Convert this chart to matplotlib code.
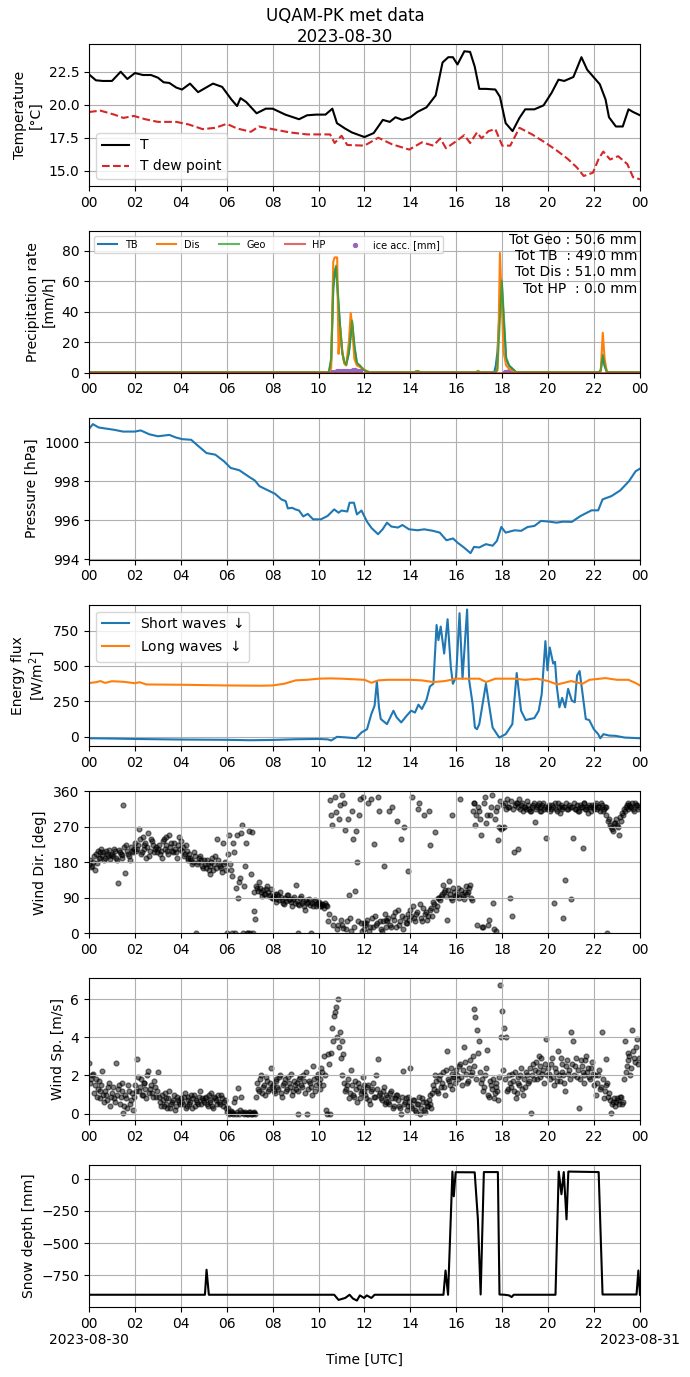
import numpy as np
import matplotlib
matplotlib.use('Agg')
import matplotlib.pyplot as plt
import matplotlib.dates as mdates
from matplotlib.ticker import FuncFormatter

# ---- temperature [degC], time in hours UTC
t_temp = [0, 0.3, 0.6, 1.0, 1.38, 1.67, 2.0, 2.35, 2.7, 3.0, 3.25, 3.5, 3.8, 4.05, 4.4, 4.75, 5.0, 5.4, 5.8, 6.2,
          6.45, 6.6, 6.85, 7.3, 7.7, 8.0, 8.55, 9.15, 9.5, 9.9, 10.3, 10.6, 10.8, 11.15, 11.45, 12.0, 12.4, 12.8,
          13.1, 13.35, 13.65, 14.0, 14.3, 14.7, 15.1, 15.4, 15.65, 15.85, 16.05, 16.35, 16.6, 16.8, 17.0, 17.3,
          17.7, 17.9, 18.15, 18.45, 18.75, 19.0, 19.4, 19.8, 20.15, 20.45, 20.7, 21.1, 21.45, 21.7, 22.0, 22.25,
          22.5, 22.65, 22.95, 23.25, 23.5, 23.7, 24.0]
temp = [22.3, 21.85, 21.8, 21.8, 22.5, 21.95, 22.4, 22.25, 22.25, 22.05, 21.7, 21.65, 21.3, 21.15, 21.6, 20.95,
        21.2, 21.6, 21.35, 20.4, 19.9, 20.5, 20.2, 19.35, 19.7, 19.7, 19.25, 18.9, 19.2, 19.25, 19.25, 19.7, 18.6,
        18.2, 17.9, 17.55, 17.85, 18.85, 18.7, 19.05, 18.85, 19.05, 19.45, 19.8, 20.7, 23.2, 23.6, 23.6, 23.05,
        24.05, 24.0, 22.9, 21.2, 21.2, 21.15, 20.6, 18.6, 18.0, 19.0, 19.65, 19.65, 19.95, 20.9, 21.9, 21.8, 22.1,
        23.6, 22.65, 22.05, 21.55, 20.4, 19.05, 18.35, 18.35, 19.65, 19.45, 19.2]
t_dew = [0, 0.5, 1.1, 1.5, 1.95, 2.45, 3.0, 3.8, 4.35, 4.95, 5.5, 6.0, 6.45, 7.05, 7.4, 8.0, 8.75, 9.5, 10.5,
         10.7, 11.0, 11.25, 12.0, 12.6, 13.2, 13.95, 14.5, 15.0, 15.3, 15.55, 16.05, 16.35, 16.6, 16.9, 17.1,
         17.4, 17.7, 18.0, 18.35, 18.75, 19.3, 19.9, 20.4, 20.85, 21.25, 21.55, 21.95, 22.2, 22.4, 22.7, 23.05,
         23.45, 23.7, 24.0]
dew = [19.45, 19.55, 19.25, 19.0, 19.15, 18.9, 18.7, 18.7, 18.5, 18.15, 18.25, 18.55, 18.2, 17.95, 18.35, 18.15,
       17.9, 17.75, 17.75, 17.1, 17.65, 16.95, 16.9, 17.5, 17.0, 16.6, 17.15, 16.9, 17.45, 16.7, 17.3, 17.7, 17.1,
       17.9, 17.45, 18.0, 18.15, 16.9, 16.9, 18.25, 17.75, 17.1, 16.5, 15.9, 15.25, 14.6, 14.85, 15.9, 16.45,
       15.85, 16.1, 15.5, 14.5, 14.35]

# ---- precipitation rate [mm/h]
t_pr = [0, 10.45, 10.55, 10.64, 10.7, 10.76, 10.81, 10.87, 10.94, 11.03, 11.12, 11.2, 11.32, 11.4, 11.46, 11.56,
        11.67, 11.8, 11.95, 12.1, 12.25, 14.15, 14.3, 14.45, 16.85, 16.95, 17.05, 17.65, 17.72, 17.79, 17.85,
        17.9, 17.98, 18.06, 18.17, 18.3, 18.45, 18.6, 22.2, 22.29, 22.38, 22.46, 22.56, 24]
pr_tb = [0.3, 0.3, 8, 55, 65, 69, 58, 44, 29, 13, 7, 5, 13, 24, 33, 17, 6, 4.5, 2, 0.8, 0.3, 0.3, 1.0, 0.3, 0.3,
         0.8, 0.3, 0.3, 4.8, 13.5, 30, 44, 59, 35, 9, 4.5, 2.5, 0.4, 0.3, 1.5, 11, 4.5, 0.4, 0.3]
pr_dis = [0.3, 0.3, 3, 72.8, 75.6, 75.6, 75.6, 12.4, 30, 14.6, 6, 4.8, 20, 39.2, 31, 9, 4.8, 3.8, 2.5, 0.9, 0.3,
          0.3, 1.2, 0.3, 0.3, 1.2, 0.3, 0.3, 0.5, 1.5, 35, 78.5, 46, 13.5, 4.8, 2.5, 1.5, 0.4, 0.3, 0.9, 26.2, 9,
          0.4, 0.3]
pr_geo = [0.3, 0.3, 10, 57, 66, 70.2, 60, 46, 30, 13.5, 7, 5.2, 13.5, 25, 34.2, 17.9, 6.5, 4.8, 2.2, 0.8, 0.3,
          0.3, 1.0, 0.3, 0.3, 0.8, 0.3, 0.3, 0.5, 3, 20, 35, 60.4, 40, 10, 4.8, 2.6, 0.4, 0.3, 1.5, 11.8, 4.8,
          0.4, 0.3]
t_hp = [0, 24]
pr_hp = [0.0, 0.0]
t_ice = [10.6, 10.7, 10.8, 10.9, 11.0, 11.1, 11.2, 11.3, 11.4, 11.5, 11.6, 11.7, 11.8, 18.1, 18.2, 18.3, 18.4]
ice = [0.4, 0.8, 1.0, 1.1, 1.2, 1.2, 1.3, 1.3, 1.4, 1.5, 1.5, 1.4, 1.2, 0.5, 0.8, 1.0, 1.0]
totals = {'Geo': 50.6, 'TB ': 49.0, 'Dis': 51.0, 'HP ': 0.0}

# ---- pressure [hPa]
t_p = [0, 0.17, 0.42, 0.7, 1.1, 1.48, 2.0, 2.25, 2.63, 3.0, 3.5, 3.78, 4.07, 4.45, 4.73, 5.12, 5.5, 5.88, 6.17,
       6.55, 6.94, 7.23, 7.42, 7.8, 8.1, 8.38, 8.57, 8.66, 8.85, 8.99, 9.15, 9.33, 9.53, 9.76, 10.1, 10.39,
       10.68, 10.87, 11.0, 11.25, 11.35, 11.54, 11.67, 11.87, 12.11, 12.31, 12.59, 12.79, 12.98, 13.17, 13.46,
       13.65, 13.94, 14.32, 14.6, 14.99, 15.28, 15.57, 15.86, 16.05, 16.33, 16.62, 16.77, 17.0, 17.29, 17.58,
       17.77, 17.96, 18.15, 18.54, 18.82, 19.11, 19.4, 19.69, 20.07, 20.36, 20.65, 21.03, 21.41, 21.89, 22.18,
       22.37, 22.76, 23.14, 23.52, 23.81, 24.0]
pres = [1000.68, 1000.92, 1000.75, 1000.7, 1000.63, 1000.54, 1000.54, 1000.6, 1000.4, 1000.3, 1000.37, 1000.24,
        1000.15, 1000.12, 999.83, 999.44, 999.36, 999.02, 998.68, 998.56, 998.25, 998.03, 997.75, 997.53, 997.36,
        997.07, 996.98, 996.61, 996.64, 996.56, 996.5, 996.2, 996.33, 996.05, 996.05, 996.22, 996.56, 996.39,
        996.5, 996.45, 996.9, 996.9, 996.3, 996.5, 995.93, 995.6, 995.29, 995.54, 995.88, 995.68, 995.63, 995.76,
        995.54, 995.49, 995.54, 995.46, 995.37, 994.98, 995.07, 994.86, 994.61, 994.32, 994.64, 994.61, 994.78,
        994.7, 994.95, 995.66, 995.37, 995.49, 995.46, 995.66, 995.71, 995.97, 995.93, 995.88, 995.93, 995.92,
        996.22, 996.51, 996.51, 997.07, 997.24, 997.53, 998.0, 998.51, 998.64]

# ---- radiation [W/m2]
t_sw = [0, 1, 2, 3, 4, 5, 6, 7, 8, 9, 10, 10.4, 10.55, 10.8, 11.2, 11.63, 11.87, 12.11, 12.3, 12.44, 12.54,
        12.63, 12.71, 12.98, 13.26, 13.4, 13.6, 13.84, 14.03, 14.2, 14.35, 14.5, 14.7, 14.85, 15.0, 15.14, 15.22,
        15.32, 15.47, 15.62, 15.76, 15.85, 15.99, 16.14, 16.27, 16.47, 16.56, 16.71, 16.81, 16.9, 17.0, 17.29,
        17.42, 17.58, 17.87, 18.15, 18.44, 18.63, 18.82, 19.02, 19.4, 19.59, 19.72, 19.88, 19.97, 20.07, 20.22,
        20.3, 20.38, 20.49, 20.61, 20.74, 20.87, 21.03, 21.16, 21.26, 21.37, 21.5, 21.64, 21.79, 21.99, 22.18,
        22.27, 22.41, 22.66, 22.94, 23.33, 24]
sw = [-12, -14, -17, -19, -21, -22, -23, -26, -24, -19, -17, -20, -28, -2, -6, -12, 29, 52, 160, 219, 390, 207,
      124, 88, 183, 136, 100, 148, 183, 170, 226, 195, 260, 355, 374, 790, 683, 779, 588, 831, 493, 374, 421, 874,
      410, 900, 398, 231, 64, 52, 88, 374, 231, 64, -7, 17, 88, 450, 183, 117, 131, 183, 302, 676, 469, 631, 517,
      529, 350, 207, 274, 207, 338, 255, 243, 433, 464, 302, 124, 117, 52, 17, -12, 17, 7, 5, -7, -12]
t_lw = [0, 0.3, 0.5, 0.7, 1.0, 1.5, 2.0, 2.2, 2.5, 4, 6, 7.5, 8, 8.5, 9, 9.5, 10, 10.5, 11, 12, 12.3, 12.6, 13,
        14, 14.5, 15, 15.5, 16, 17, 17.3, 17.7, 18.5, 19, 19.5, 20, 20.4, 21, 21.5, 21.8, 22.5, 23, 23.5, 23.8, 24]
lw = [379, 385, 393, 380, 392, 388, 378, 385, 369, 367, 362, 360, 362, 374, 398, 402, 410, 412, 410, 402, 381,
      398, 402, 402, 398, 386, 393, 410, 410, 386, 410, 410, 402, 410, 393, 369, 393, 374, 402, 414, 402, 402,
      380, 362]

# ---- wind, one value every 5 minutes (one row per hour), two interleaved sets
wind_dir = [
    175, 168, 182, 160, 178, 190, 205, 198, 185, 210, 195, 188,
    200, 215, 192, 128, 205, 198, 325, 153, 210, 195, 220, 205,
    230, 215, 265, 200, 245, 225, 190, 255, 210, 235, 205, 220,
    215, 200, 190, 240, 225, 210, 250, 230, 205, 215, 190, 245,
    235, 220, 200, 210, 185, 190, 175, 205, 0, 180, 195, 170,
    185, 165, 175, 150, 180, 160, 195, 240, 175, 165, 230, 180,
    0, 250, 160, 0, 205, 115, 90, 140, 275, 120, 230, 0,
    0, 258, 57, 36, 115, 130, 105, 110, 100, 120, 95, 112,
    90, 100, 80, 95, 105, 85, 75, 82, 98, 88, 70, 92,
    123, 0, 72, 95, 82, 60, 78, 88, 0, 70, 85, 75,
    80, 70, 75, 65, 72, 31, 338, 275, 40, 308, 20, 325,
    350, 14, 262, 30, 98, 5, 240, 107, 182, 300, 25, 345,
    10, 25, 330, 15, 40, 226, 20, 345, 30, 5, 170, 35,
    30, 310, 15, 45, 55, 285, 20, 240, 10, 40, 25, 157,
    60, 345, 40, 50, 315, 75, 30, 300, 55, 45, 225, 65,
    80, 258, 70, 90, 95, 123, 110, 35, 132, 90, 300, 105,
    95, 115, 340, 100, 88, 120, 105, 123, 85, 330, 275, 20,
    310, 250, 15, 345, 300, 35, 320, 77, 290, 5, 237, 335,
    266, 270, 315, 320, 90, 43, 205, 330, 215, 340, 325, 310,
    320, 335, 315, 310, 325, 283, 320, 330, 310, 325, 315, 241,
    320, 310, 325, 77, 315, 330, 305, 320, 40, 136, 315, 325,
    88, 241, 315, 325, 310, 320, 216, 330, 315, 305, 320, 325,
    315, 330, 320, 310, 325, 315, 320, 2, 290, 270, 260, 280,
    275, 250, 285, 300, 310, 325, 315, 320, 330, 310, 325, 315,
]
wind_dir_b = [
    185, 172, 195, 200, 210, 192, 215, 205, 190, 200, 212, 198,
    195, 208, 185, 212, 200, 190, 218, 225, 200, 185, 210, 215,
    210, 225, 240, 205, 215, 230, 220, 195, 240, 225, 215, 205,
    225, 210, 235, 215, 245, 200, 220, 210, 230, 205, 225, 215,
    210, 195, 225, 190, 200, 185, 180, 195, 175, 190, 185, 165,
    175, 185, 160, 170, 190, 175, 165, 185, 170, 155, 175, 160,
    200, 175, 145, 230, 0, 250, 130, 255, 0, 170, 0, 260,
    150, 0, 105, 120, 108, 115, 95, 100, 112, 105, 98, 90,
    95, 88, 100, 85, 92, 78, 90, 96, 84, 80, 88, 76,
    82, 75, 90, 78, 68, 85, 80, 72, 76, 82, 70, 78,
    75, 68, 72, 78, 70, 50, 300, 20, 345, 10, 290, 35,
    20, 330, 10, 290, 40, 310, 15, 260, 30, 340, 5, 25,
    20, 35, 5, 340, 15, 45, 25, 310, 10, 30, 50, 15,
    40, 20, 320, 35, 15, 60, 30, 45, 270, 25, 50, 35,
    45, 70, 30, 55, 330, 40, 65, 50, 35, 310, 60, 45,
    75, 60, 90, 85, 100, 105, 95, 110, 100, 85, 115, 95,
    100, 90, 110, 95, 105, 100, 115, 90, 310, 330, 300, 320,
    290, 15, 330, 280, 20, 300, 350, 10, 310, 320, 270, 265,
    325, 330, 340, 320, 335, 315, 325, 330, 320, 315, 330, 320,
    315, 325, 310, 320, 330, 315, 325, 320, 310, 330, 320, 315,
    325, 315, 320, 330, 310, 320, 325, 315, 320, 330, 315, 320,
    320, 330, 315, 310, 325, 320, 330, 315, 320, 325, 310, 320,
    325, 315, 320, 330, 310, 320, 300, 285, 275, 265, 280, 290,
    270, 295, 305, 315, 320, 330, 325, 320, 315, 330, 325, 320,
]
wind_sp = [
    2.66, 1.8, 2.1, 1.5, 0.9, 1.7, 1.2, 2.26, 0.6, 1.0, 1.4, 0.4,
    1.1, 0.8, 2.66, 1.3, 0.5, 1.6, 0.05, 1.0, 0.3, 1.2, 0.7, 0.2,
    1.5, 2.87, 1.2, 1.8, 1.0, 1.6, 0.8, 2.26, 1.3, 1.1, 1.7, 0.9,
    2.2, 0.6, 1.0, 0.4, 0.8, 0.3, 1.2, 0.5, 0.7, 0.2, 0.9, 0.6,
    0.8, 0.5, 1.1, 0.4, 0.9, 0.6, 0.3, 1.0, 0.7, 0.5, 1.2, 0.8,
    0.6, 0.9, 0.4, 0.7, 1.1, 0.3, 0.8, 0.5, 0.6, 1.0, 0.4, 0.7,
    0.1, 0.0, 0.15, 0.05, 0.6, 0.0, 1.36, 0.2, 0.1, 0.0, 0.05, 0.0,
    0.1, 0.0, 0.05, 0.0, 1.6, 1.2, 2.0, 1.4, 1.0, 1.7, 1.3, 2.4,
    1.5, 1.1, 1.8, 1.3, 2.0, 0.9, 1.6, 1.2, 1.9, 1.4, 1.0, 1.7,
    1.3, 0.0, 1.8, 1.5, 2.0, 1.1, 0.0, 1.7, 1.4, 2.5, 1.2, 1.9,
    1.6, 1.3, 2.2, 3.0, 0.2, 3.1, 0.0, 4.5, 5.1, 5.6, 6.0, 4.3,
    3.8, 3.1, 1.2, 1.5, 0.8, 2.3, 1.0, 1.7, 0.6, 1.4, 1.1, 1.9,
    1.2, 0.8, 1.5, 0.5, 1.3, 0.9, 2.0, 2.84, 1.1, 0.7, 1.4, 0.6,
    0.9, 0.5, 1.2, 0.3, 0.8, 1.0, 0.4, 0.0, 2.23, 0.6, 0.2, 0.9,
    2.4, 0.3, 0.7, 0.1, 0.5, 0.0, 0.8, 0.2, 0.6, 0.4, 1.0, 0.3,
    1.5, 2.0, 1.2, 1.8, 1.4, 2.2, 1.0, 3.27, 1.7, 2.4, 1.3, 1.9,
    2.3, 1.8, 2.6, 1.5, 3.5, 2.1, 1.7, 2.8, 2.2, 5.5, 5.05, 4.4,
    3.8, 1.6, 1.2, 2.0, 3.35, 0.9, 1.5, 1.8, 1.1, 1.4, 0.7, 6.75,
    5.4, 4.5, 4.0, 1.3, 1.6, 2.1, 1.2, 0.8, 1.9, 1.5, 2.4, 1.0,
    1.4, 2.0, 1.7, 0.05, 2.6, 2.3, 1.8, 3.0, 2.5, 2.1, 1.6, 3.9,
    2.4, 1.8, 2.9, 1.5, 2.2, 3.3, 1.7, 2.6, 2.0, 1.2, 2.8, 2.3,
    4.3, 3.8, 2.5, 1.9, 0.3, 2.8, 2.2, 1.6, 3.0, 2.4, 1.8, 2.7,
    1.5, 1.0, 2.0, 1.3, 4.3, 0.8, 2.87, 1.6, 1.1, 0.05, 0.6, 0.4,
    0.8, 0.5, 0.9, 0.6, 3.8, 2.5, 3.2, 2.0, 4.4, 2.9, 3.5, 2.6,
]
wind_sp_b = [
    1.6, 2.0, 1.1, 1.8, 1.3, 0.8, 1.5, 1.0, 1.2, 0.7, 1.6, 0.9,
    1.4, 0.6, 1.0, 1.5, 0.9, 1.2, 0.4, 0.8, 1.5, 0.5, 1.1, 0.9,
    1.2, 1.9, 1.4, 1.0, 1.6, 1.3, 2.0, 1.1, 1.5, 0.9, 1.4, 1.2,
    0.9, 0.4, 0.7, 1.1, 0.5, 0.8, 0.3, 0.6, 1.0, 0.4, 0.7, 0.5,
    0.6, 0.9, 0.3, 0.7, 0.5, 1.0, 0.8, 0.4, 0.6, 0.9, 0.5, 0.7,
    0.8, 0.5, 1.0, 0.6, 0.4, 0.9, 0.7, 1.0, 0.5, 0.8, 0.6, 0.3,
    0.3, 0.05, 0.1, 0.0, 0.8, 0.1, 0.0, 0.9, 0.05, 0.1, 0.0, 0.1,
    0.0, 0.05, 0.1, 0.9, 1.3, 1.8, 1.1, 1.5, 1.9, 1.2, 1.6, 1.4,
    1.2, 1.7, 1.4, 1.9, 1.1, 1.5, 1.8, 1.3, 1.6, 2.1, 1.2, 1.5,
    1.6, 1.2, 1.9, 1.4, 1.7, 2.2, 1.3, 1.6, 1.0, 1.8, 1.5, 2.1,
    1.8, 2.4, 1.5, 2.0, 0.0, 2.6, 3.2, 3.8, 5.3, 4.0, 3.5, 2.9,
    2.0, 1.6, 1.3, 1.8, 1.1, 1.5, 0.9, 1.3, 1.6, 0.8, 1.2, 1.5,
    1.0, 1.4, 0.7, 1.2, 1.6, 0.9, 1.3, 1.0, 0.8, 1.2, 0.5, 1.0,
    0.6, 1.1, 0.8, 0.4, 1.0, 0.7, 0.3, 0.9, 0.5, 0.8, 0.4, 0.6,
    0.4, 0.7, 0.2, 0.5, 0.9, 0.3, 0.6, 0.1, 0.4, 0.7, 0.5, 1.1,
    1.3, 1.7, 1.1, 2.0, 1.6, 1.4, 2.3, 1.8, 1.5, 2.1, 1.9, 1.6,
    2.0, 2.5, 1.9, 2.3, 2.7, 1.6, 2.4, 2.0, 3.0, 2.5, 1.8, 3.2,
    2.2, 1.8, 1.4, 2.4, 1.0, 1.7, 1.3, 0.8, 1.6, 1.2, 1.9, 4.0,
    2.3, 1.8, 1.2, 2.0, 1.4, 1.7, 2.2, 1.1, 1.6, 2.0, 1.3, 1.8,
    2.2, 1.6, 2.4, 2.0, 1.8, 2.7, 2.2, 1.9, 2.9, 2.3, 2.6, 2.0,
    2.1, 2.6, 1.9, 2.4, 1.7, 2.0, 2.9, 2.2, 1.6, 2.5, 2.1, 1.8,
    2.6, 2.0, 2.9, 2.3, 1.8, 2.5, 2.0, 2.8, 2.2, 1.9, 2.4, 2.1,
    2.0, 1.6, 2.3, 1.4, 1.8, 1.2, 1.5, 0.9, 0.7, 0.5, 0.8, 0.6,
    0.7, 0.9, 0.5, 1.8, 2.2, 2.8, 3.0, 2.4, 3.3, 2.7, 3.9, 2.9,
]

# ---- snow depth [mm]
t_snow = [0, 5.05, 5.12, 5.22, 10.68, 10.87, 11.16, 11.35, 11.5, 11.67, 11.8, 11.98, 12.1, 12.3, 12.44, 15.44,
          15.53, 15.64, 15.83, 15.89, 15.97, 16.8, 16.94, 17.06, 17.2, 17.81, 17.88, 18.1, 18.3, 18.41, 18.5,
          20.32, 20.46, 20.58, 20.68, 20.8, 20.88, 22.2, 22.37, 23.85, 23.93, 24.0]
snow = [-900, -900, -706, -900, -900, -940, -925, -900, -930, -945, -905, -925, -905, -925, -900, -900, -712,
        -900, 56, -136, 51, 50, -315, -898, 52, 52, -898, -900, -905, -918, -900, -900, 56, -120, 52, -315, 56,
        52, -898, -898, -712, -900]

day = np.datetime64('2023-08-30T00:00')


def to_time(hours):
    return day + (np.asarray(hours, dtype=float) * 3600).round().astype('timedelta64[s]')


step = np.timedelta64(300, 's')
t_wind = day + np.arange(len(wind_dir)) * step
t_wind_b = day + np.timedelta64(150, 's') + np.arange(len(wind_dir_b)) * step

fig, axes = plt.subplots(7, 1, figsize=(6.9, 13.77), dpi=100)
fig.subplots_adjust(left=0.129, right=0.9275, top=1 - 44 / 1377, bottom=1 - 1307 / 1377, hspace=45 / 142)
fig.suptitle('UQAM-PK met data\n2023-08-30', y=0.995, fontsize=12)

ax = axes[0]
ax.plot(to_time(t_temp), temp, 'k-', lw=1.5, label='T')
ax.plot(to_time(t_dew), dew, '--', color='tab:red', lw=1.5, label='T dew point')
ax.set_ylim(13.85, 24.6)
ax.set_ylabel('Temperature\n[°C]')
ax.legend(loc='lower left')

ax = axes[1]
ax.plot(to_time(t_pr), pr_tb, color='tab:blue', lw=1.5, label='TB')
ax.plot(to_time(t_pr), pr_dis, color='tab:orange', lw=1.5, label='Dis')
ax.plot(to_time(t_pr), pr_geo, color='tab:green', lw=1.5, alpha=0.75, label='Geo')
ax.plot(to_time(t_hp), pr_hp, color='tab:red', lw=1.5, alpha=0.7, label='HP')
ax.scatter(to_time(t_ice), ice, s=8, color='tab:purple', label='ice acc. [mm]')
ax.set_ylim(0, 93)
ax.set_ylabel('Precipitation rate\n[mm/h]')
ax.legend(loc='upper left', ncol=5, fontsize=7)
ax.text(0.995, 0.985, '\n'.join('Tot %s : %.1f mm' % (k, v) for k, v in totals.items()),
        transform=ax.transAxes, ha='right', va='top', fontsize=10)

ax = axes[2]
ax.plot(to_time(t_p), pres, color='tab:blue', lw=1.5)
ax.set_ylabel('Pressure [hPa]')

ax = axes[3]
ax.plot(to_time(t_sw), sw, color='tab:blue', lw=1.5, label='Short waves $\\downarrow$')
ax.plot(to_time(t_lw), lw, color='tab:orange', lw=1.5, label='Long waves $\\downarrow$')
ax.set_ylim(-70, 935)
ax.set_ylabel('Energy flux\n[W/m$^2$]')
ax.legend(loc='upper left')

ax = axes[4]
ax.scatter(t_wind, wind_dir, s=12, color='k', alpha=0.5)
ax.scatter(t_wind_b, wind_dir_b, s=12, color='k', alpha=0.5)
ax.set_ylim(0, 360)
ax.set_yticks([0, 90, 180, 270, 360])
ax.set_ylabel('Wind Dir. [deg]')

ax = axes[5]
ax.scatter(t_wind, wind_sp, s=12, color='k', alpha=0.5)
ax.scatter(t_wind_b, wind_sp_b, s=12, color='k', alpha=0.5)
ax.set_ylabel('Wind Sp. [m/s]')

ax = axes[6]
ax.plot(to_time(t_snow), snow, 'k-', lw=1.5)
ax.set_ylabel('Snow depth [mm]')
ax.set_xlabel('Time [UTC]')


def bottom_fmt(x, pos):
    d = mdates.num2date(x)
    if d.hour == 0:
        return d.strftime('%H\n%Y-%m-%d')
    return d.strftime('%H')


for i, ax in enumerate(axes):
    ax.set_xlim(day, day + np.timedelta64(1, 'D'))
    ax.xaxis.set_major_locator(mdates.HourLocator(byhour=range(0, 24, 2)))
    if i == len(axes) - 1:
        ax.xaxis.set_major_formatter(FuncFormatter(bottom_fmt))
    else:
        ax.xaxis.set_major_formatter(mdates.DateFormatter('%H'))
    ax.grid(True)

fig.savefig('out.png', dpi=100)
